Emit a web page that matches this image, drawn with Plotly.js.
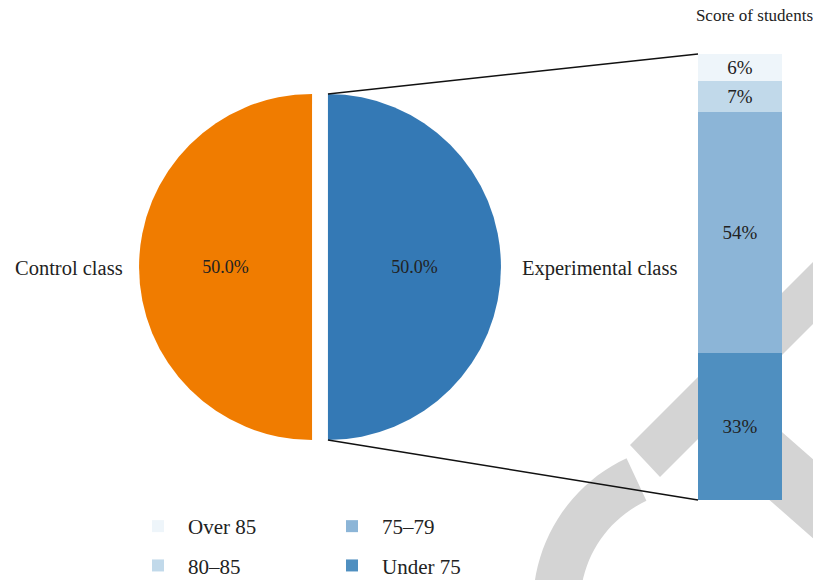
<!DOCTYPE html>
<html>
<head>
<meta charset="utf-8">
<script src="https://cdn.plot.ly/plotly-3.0.1.min.js"></script>
<style>html,body{margin:0;padding:0;background:#fff;}#chart{width:813px;height:580px;}</style>
</head>
<body>
<div id="chart"></div>
<script>
// ---- data ----
const classLabels = ['Control class', 'Experimental class'];
const classValues = [50, 50];
const classColors = ['#f07c00', '#3479b5'];

const scoreBands = ['Under 75', '75–79', '80–85', 'Over 85'];
const scoreValues = [33, 54, 7, 6];
const scoreColors = ['#4f8fc0', '#8cb5d7', '#c1d9ea', '#eef5fa'];
const barTitle = 'Score of students';

// ---- layout helpers ----
const W = 813, H = 580;
const FONT = 'Liberation Serif, Times New Roman, serif';
const X = px => px / W;
const Y = py => 1 - py / H;

const pull = 0.046;
const pieR = 173;                       // px
const pieD = 2 * pieR * (1 + pull);
const pieCx = 320, pieCy = 267;
const pieDomX = [X(pieCx - pieD / 2), X(pieCx + pieD / 2)];
const pieDomY = [Y(pieCy + pieD / 2), Y(pieCy - pieD / 2)];

const barLeft = 698, barRight = 782, barTop = 54, barBottom = 500;

const traces = [{
  type: 'pie',
  labels: classLabels,
  values: classValues,
  sort: false,
  direction: 'clockwise',
  rotation: 180,
  pull: pull,
  marker: {colors: classColors, line: {width: 0}},
  texttemplate: '%{percent:.1%}',
  textposition: 'inside',
  insidetextorientation: 'horizontal',
  textfont: {family: FONT, size: 18, color: '#222'},
  domain: {x: pieDomX, y: pieDomY},
  showlegend: false,
  hoverinfo: 'label+percent'
}];

const legendOf = {'Over 85': ['legend', 1], '80–85': ['legend', 2], '75–79': ['legend2', 1], 'Under 75': ['legend2', 2]};
scoreBands.forEach((b, i) => {
  traces.push({
    type: 'bar',
    name: b,
    x: [''],
    y: [scoreValues[i]],
    marker: {color: scoreColors[i], line: {width: 0}},
    text: [scoreValues[i] + '%'],
    textposition: 'inside',
    insidetextanchor: 'middle',
    constraintext: 'none',
    textfont: {family: FONT, size: 19, color: '#222'},
    legend: legendOf[b][0],
    legendrank: legendOf[b][1],
    legendgroup: b,
    hoverinfo: 'name+y'
  });
});

// connector lines
const pieTopX = pieCx + pull * pieR, pieTopY = pieCy - pieR, pieBotY = pieCy + pieR;
const shapes = [];

// watermark-like grey strokes in the background
const wm = '#d4d4d4';
function poly(pts) {
  return 'M' + pts.map(p => X(p[0]).toFixed(5) + ',' + Y(p[1]).toFixed(5)).join('L') + 'Z';
}
shapes.push({type: 'path', xref: 'paper', yref: 'paper', layer: 'below', fillcolor: wm, line: {width: 0},
  path: poly([[630, 445], [660, 477], [870, 267], [840, 235]])});
shapes.push({type: 'path', xref: 'paper', yref: 'paper', layer: 'below', fillcolor: wm, line: {width: 0},
  path: poly([[740, 395], [900, 536], [900, 615], [740, 474]])});
(function () {
  const cx = 695, cy = 605, R = 162, r = 115;
  const outer = [], inner = [];
  for (let a = -115; a >= -205; a -= 3) {
    const t = a * Math.PI / 180;
    outer.push([cx + R * Math.cos(t), cy + R * Math.sin(t)]);
    inner.unshift([cx + r * Math.cos(t), cy + r * Math.sin(t)]);
  }
  shapes.push({type: 'path', xref: 'paper', yref: 'paper', layer: 'below', fillcolor: wm, line: {width: 0},
    path: poly(outer.concat(inner))});
})();

shapes.push({type: 'line', xref: 'paper', yref: 'paper', layer: 'above',
  x0: X(pieTopX), y0: Y(pieTopY), x1: X(barLeft), y1: Y(barTop), line: {color: '#111', width: 1.5}});
shapes.push({type: 'line', xref: 'paper', yref: 'paper', layer: 'above',
  x0: X(pieTopX), y0: Y(pieBotY), x1: X(barLeft), y1: Y(barBottom), line: {color: '#111', width: 1.5}});

const labelFont = {family: FONT, size: 20.5, color: '#222'};
const annotations = [
  {text: classLabels[0], xref: 'paper', yref: 'paper', x: X(125), y: Y(pieCy + 1), xanchor: 'right', yanchor: 'middle', showarrow: false,
   font: labelFont},
  {text: classLabels[1], xref: 'paper', yref: 'paper', x: X(520), y: Y(pieCy + 1), xanchor: 'left', yanchor: 'middle', showarrow: false,
   font: labelFont}
];

const legendFont = {family: FONT, size: 21, color: '#222'};
const layout = {
  width: W, height: H,
  margin: {l: 0, r: 0, t: 0, b: 0, autoexpand: false},
  paper_bgcolor: '#fff', plot_bgcolor: 'rgba(0,0,0,0)',
  barmode: 'stack', bargap: 0,
  font: {family: FONT, size: 18, color: '#222'},
  title: {text: barTitle, xref: 'paper', x: X(813), xanchor: 'right', y: Y(15), yanchor: 'middle',
          font: {family: FONT, size: 17, color: '#222'}},
  xaxis: {domain: [X(barLeft), X(barRight)], range: [-0.5, 0.5], visible: false, fixedrange: true},
  yaxis: {domain: [Y(barBottom), Y(barTop)], range: [0, 100], visible: false, fixedrange: true},
  showlegend: true,
  legend: {x: X(128), y: Y(506), xanchor: 'left', yanchor: 'top', orientation: 'v', traceorder: 'grouped',
           itemwidth: 50, tracegroupgap: 9, font: legendFont, bgcolor: 'rgba(0,0,0,0)'},
  legend2: {x: X(322), y: Y(506), xanchor: 'left', yanchor: 'top', orientation: 'v', traceorder: 'grouped',
           itemwidth: 50, tracegroupgap: 9, font: legendFont, bgcolor: 'rgba(0,0,0,0)'},
  shapes: shapes,
  annotations: annotations
};

Plotly.newPlot('chart', traces, layout, {displayModeBar: false, staticPlot: true});
</script>
</body>
</html>
